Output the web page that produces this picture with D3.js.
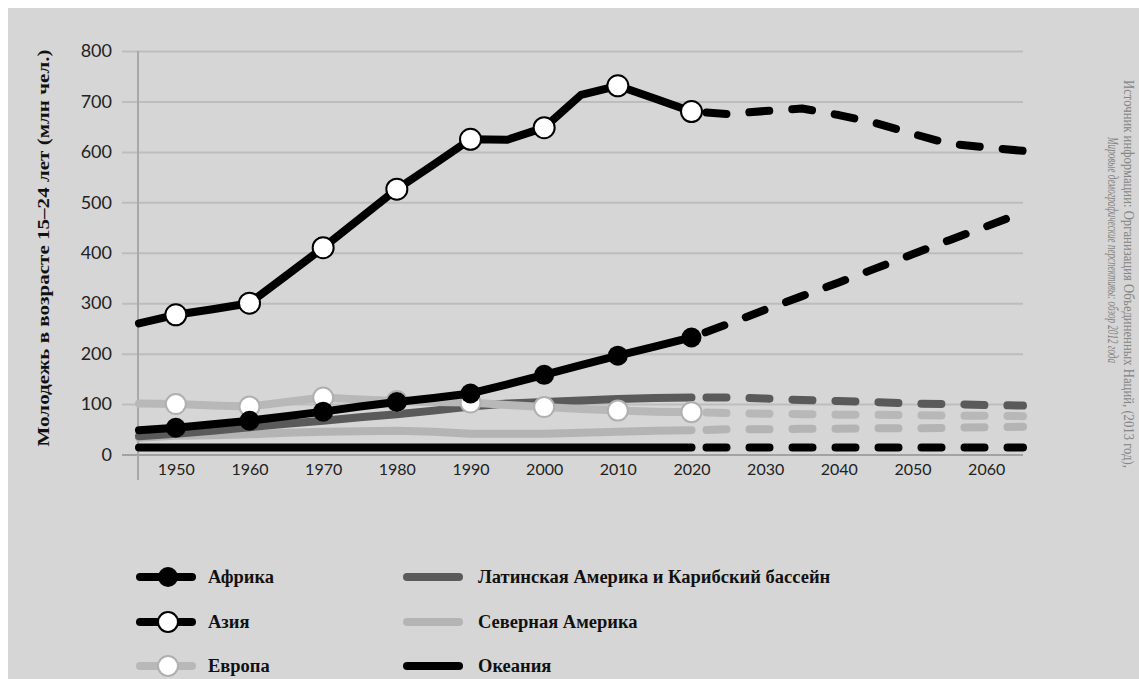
<!DOCTYPE html>
<html>
<head>
<meta charset="utf-8">
<script src="https://cdn.jsdelivr.net/npm/d3@7"></script>
<style>
  html, body { margin: 0; padding: 0; background: #ffffff; }
  svg { display: block; }
</style>
</head>
<body>
<svg id="chart" width="1139" height="679"></svg>
<script>
// ---------- DATA ----------
const years = [1945,1950,1955,1960,1965,1970,1975,1980,1985,1990,1995,2000,2005,2010,2015,2020,
               2025,2030,2035,2040,2045,2050,2055,2060,2065];
const markerYears = [1950,1960,1970,1980,1990,2000,2010,2020];
const projectionStart = 2020;

const africa   = [48,53,60,67,76,85,95,104,112,121,139,158,177,196,214,232, 259,287,314,341,369,397,425,452,480];
const asia     = [260,277,288,300,355,410,468,526,575,625,624,648,713,731,706,680, 675,681,686,673,657,636,616,609,602];
const europe   = [101,100,97,95,104,113,109,106,104,103,98,94,90,87,85,84, 82,81,80,79,79,78,77,77,76];
const latinAm  = [36,41,47,54,61,67,74,80,87,95,101,104,107,110,112,113, 113,111,108,106,104,101,100,98,97];
const northAm  = [33,37,38,40,43,45,46,47,45,41,41,41,43,45,47,48, 50,50,51,51,52,52,53,54,55];
const oceania  = [14,14,14,14,14,14,14,14,14,14,14,14,14,14,14,14, 14,14,14,14,14,14,14,14,14];

const yTicks = [0,100,200,300,400,500,600,700,800];
const xTicks = [1950,1960,1970,1980,1990,2000,2010,2020,2030,2040,2050,2060];

const yTitle = "Молодежь в возрасте 15–24 лет (млн чел.)";
const sourceLine1 = "Источник информации: Организация Объединенных Наций, (2013 год),";
const sourceLine2 = "Мировые демографические перспективы: обзор 2012 года";

const legendCol1 = ["Африка", "Азия", "Европа"];
const legendCol2 = ["Латинская Америка и Карибский бассейн", "Северная Америка", "Океания"];

// ---------- STYLE ----------
const BG = "#d6d6d6";
const C_BLACK = "#000000";
const C_DARK = "#5a5a5a";
const C_LIGHT = "#b4b4b4";
const C_EURO = "#b8b8b8";
const SERIF = "'Liberation Serif', 'DejaVu Serif', serif";
const SANS = "Lato, 'Open Sans', sans-serif";

const svg = d3.select("#chart");
svg.append("rect").attr("x", 8).attr("y", 8).attr("width", 1131).attr("height", 671).attr("fill", BG);

const x = d3.scaleLinear().domain([1945, 2065]).range([139, 1023]);
const y = d3.scaleLinear().domain([0, 800]).range([454.5, 51]);

// gridlines + y labels
const yAxis = d3.axisLeft(y).tickValues(yTicks).tickSize(1023 - 122).tickPadding(10).tickFormat(d3.format("d"));
const gy = svg.append("g").attr("transform", "translate(1023,0)").call(yAxis);
gy.select(".domain").remove();
gy.selectAll(".tick line").attr("stroke", d => d === 0 ? "#a2a2a2" : "#bdbdbd").attr("stroke-width", 2);
gy.selectAll(".tick text").attr("font-family", SANS).attr("font-size", 18).attr("fill", "#222");

// vertical axis line
svg.append("line").attr("x1", 138).attr("x2", 138).attr("y1", 51).attr("y2", 480)
  .attr("stroke", "#a8a8a8").attr("stroke-width", 2);

// x labels
const xAxis = d3.axisBottom(x).tickValues(xTicks).tickSize(0).tickPadding(9).tickFormat(d3.format("d"));
const gx = svg.append("g").attr("transform", "translate(0,454.5)").call(xAxis);
gx.select(".domain").remove();
gx.selectAll(".tick text").attr("font-family", SANS).attr("font-size", 16).attr("fill", "#222");

// ---------- SERIES ----------
const line = d3.line().x(d => x(d[0])).y(d => y(d[1]));

function drawSeries(values, color, width) {
  const pts = years.map((yr, i) => [yr, values[i]]);
  const hist = pts.filter(p => p[0] <= projectionStart);
  const proj = pts.filter(p => p[0] >= projectionStart);
  const g = svg.append("g");
  g.append("path").attr("d", line(hist)).attr("fill", "none").attr("stroke", color)
    .attr("stroke-width", width).attr("stroke-linecap", "round").attr("stroke-linejoin", "round");
  g.append("path").attr("d", line(proj)).attr("fill", "none").attr("stroke", color)
    .attr("stroke-width", width).attr("stroke-linecap", "round").attr("stroke-linejoin", "round")
    .attr("stroke-dasharray", "20 23").attr("stroke-dashoffset", 28);
  return g;
}
function drawMarkers(values, fill, stroke, sw, r) {
  const pts = markerYears.map(yr => [yr, values[years.indexOf(yr)]]);
  svg.append("g").selectAll("circle").data(pts).join("circle")
    .attr("cx", d => x(d[0])).attr("cy", d => y(d[1])).attr("r", r)
    .attr("fill", fill).attr("stroke", stroke).attr("stroke-width", sw);
}

drawSeries(northAm, C_LIGHT, 8);
drawSeries(latinAm, C_DARK, 8);
drawSeries(oceania, C_BLACK, 8);
drawSeries(europe, C_EURO, 8);
drawMarkers(europe, "#ffffff", "#b0b0b0", 2, 10);
drawSeries(asia, C_BLACK, 8);
drawMarkers(asia, "#ffffff", "#000000", 2, 10.5);
drawSeries(africa, C_BLACK, 8);
drawMarkers(africa, "#000000", "#000000", 0, 10);

// ---------- TEXT ----------
svg.append("text").attr("transform", "translate(43,248) rotate(-90)")
  .attr("text-anchor", "middle").attr("dominant-baseline", "central")
  .attr("font-family", SERIF).attr("font-weight", "bold").attr("font-size", 17.5).attr("fill", "#111")
  .attr("textLength", 397).attr("lengthAdjust", "spacingAndGlyphs")
  .text(yTitle);

svg.append("text").attr("transform", "translate(1129,80) rotate(90)")
  .attr("dominant-baseline", "central")
  .attr("font-family", SERIF).attr("font-size", 14.5).attr("fill", "#858585")
  .attr("textLength", 388).attr("lengthAdjust", "spacingAndGlyphs")
  .text(sourceLine1);
svg.append("text").attr("transform", "translate(1112,137) rotate(90)")
  .attr("dominant-baseline", "central")
  .attr("font-family", SERIF).attr("font-style", "italic").attr("font-size", 14).attr("fill", "#858585")
  .attr("textLength", 226).attr("lengthAdjust", "spacingAndGlyphs")
  .text(sourceLine2);

// ---------- LEGEND ----------
const rowsY = [577, 622, 666];
const col1 = [
  {line: C_BLACK, fill: "#000000", stroke: "#000000", sw: 0},
  {line: C_BLACK, fill: "#ffffff", stroke: "#000000", sw: 2},
  {line: C_EURO, fill: "#ffffff", stroke: "#b0b0b0", sw: 2}
];
const col2 = [C_DARK, C_LIGHT, C_BLACK];
const lg = svg.append("g");
legendCol1.forEach((name, i) => {
  const yy = rowsY[i];
  lg.append("line").attr("x1", 140).attr("x2", 192).attr("y1", yy).attr("y2", yy)
    .attr("stroke", col1[i].line).attr("stroke-width", 8).attr("stroke-linecap", "round");
  lg.append("circle").attr("cx", 168).attr("cy", yy).attr("r", 10)
    .attr("fill", col1[i].fill).attr("stroke", col1[i].stroke).attr("stroke-width", col1[i].sw);
  lg.append("text").attr("x", 208).attr("y", yy).attr("dominant-baseline", "central")
    .attr("font-family", SERIF).attr("font-weight", "bold").attr("font-size", 18.5).attr("fill", "#111")
    .text(name);
});
legendCol2.forEach((name, i) => {
  const yy = rowsY[i];
  lg.append("line").attr("x1", 407).attr("x2", 459).attr("y1", yy).attr("y2", yy)
    .attr("stroke", col2[i]).attr("stroke-width", 8).attr("stroke-linecap", "round");
  lg.append("text").attr("x", 478).attr("y", yy).attr("dominant-baseline", "central")
    .attr("font-family", SERIF).attr("font-weight", "bold").attr("font-size", 18.5).attr("fill", "#111")
    .text(name);
});
</script>
</body>
</html>
